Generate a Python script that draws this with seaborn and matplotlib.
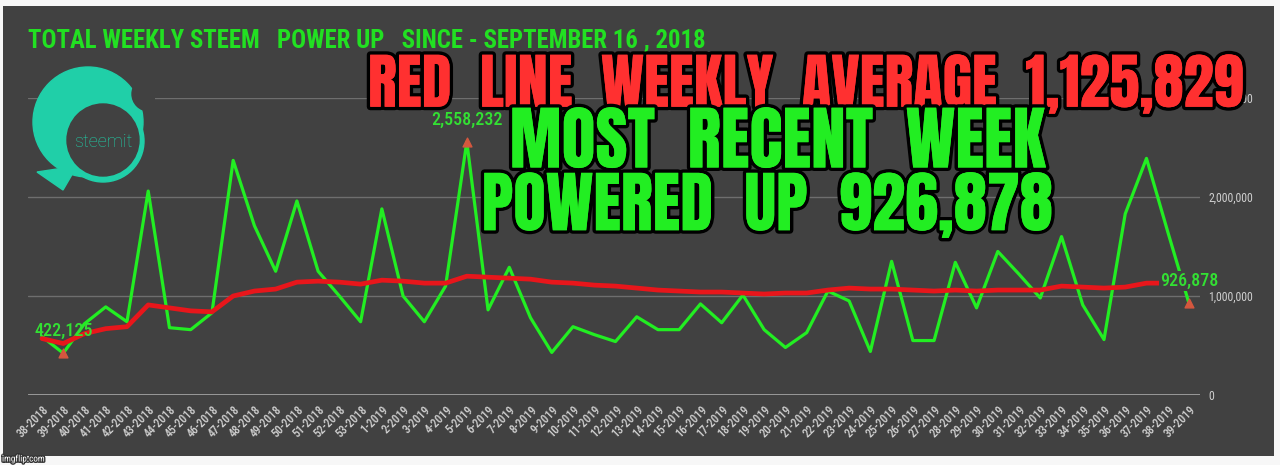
import numpy as np
import pandas as pd
import seaborn as sns
import matplotlib.pyplot as plt
from matplotlib import patheffects as pe
from matplotlib.patches import Rectangle, Circle, Polygon

# weekly totals
weeks = [
    "38-2018", "39-2018", "40-2018", "41-2018", "42-2018", "43-2018", "44-2018",
    "45-2018", "46-2018", "47-2018", "48-2018", "49-2018", "50-2018", "51-2018",
    "52-2018", "53-2018", "1-2019", "2-2019", "3-2019", "4-2019", "5-2019",
    "6-2019", "7-2019", "8-2019", "9-2019", "10-2019", "11-2019", "12-2019",
    "13-2019", "14-2019", "15-2019", "16-2019", "17-2019", "18-2019", "19-2019",
    "20-2019", "21-2019", "22-2019", "23-2019", "24-2019", "25-2019", "26-2019",
    "27-2019", "28-2019", "29-2019", "30-2019", "31-2019", "32-2019", "33-2019",
    "34-2019", "35-2019", "36-2019", "37-2019", "38-2019", "39-2019",
]
power_up = [
    590000, 422125, 720000, 890000, 740000, 2060000, 680000, 660000, 830000, 2370000,
    1710000, 1250000, 1960000, 1250000, 1000000, 740000, 1880000, 1000000, 740000, 1100000,
    2558232, 860000, 1290000, 780000, 430000, 690000, 610000, 540000, 790000, 660000,
    660000, 920000, 730000, 1010000, 660000, 480000, 630000, 1050000, 950000, 440000,
    1350000, 550000, 550000, 1340000, 880000, 1450000, 1220000, 980000, 1600000, 910000,
    560000, 1830000, 2390000, 1650000, 926878,
]
weekly_avg = [
    570000, 520000, 620000, 670000, 690000, 910000, 880000, 850000, 840000, 1000000,
    1050000, 1070000, 1140000, 1150000, 1140000, 1120000, 1160000, 1150000, 1130000, 1130000,
    1200000, 1190000, 1180000, 1170000, 1140000, 1130000, 1110000, 1100000, 1080000, 1060000,
    1050000, 1040000, 1040000, 1030000, 1020000, 1030000, 1030000, 1060000, 1080000, 1070000,
    1070000, 1060000, 1050000, 1060000, 1050000, 1060000, 1060000, 1060000, 1100000, 1090000,
    1080000, 1090000, 1130000, 1130000, 1126000,
]
marked_weeks = ["39-2018", "5-2019", "39-2019"]
marked_labels = ["422,125", "2,558,232", "926,878"]
y_ticks = [0, 1000000, 2000000, 3000000]
y_tick_labels = ["0", "1,000,000", "2,000,000", "3,000,000"]

df = pd.DataFrame({"week": weeks, "power_up": power_up, "avg": weekly_avg})
df["pos"] = np.arange(len(df))

sns.set_theme(style="dark")
plt.rcParams["font.family"] = ["Roboto Condensed", "Roboto", "DejaVu Sans"]

W, H = 1280, 465
BG = "#414141"
GREEN = "#22ee22"
RED = "#e8161b"

fig = plt.figure(figsize=(W / 100, H / 100), dpi=100)
fig.patch.set_facecolor("#f7f7f7")
fig.add_artist(Rectangle((3 / W, 1 - 456 / H), 1271 / W, 450 / H,
                         transform=fig.transFigure, facecolor=BG,
                         edgecolor="none", zorder=-5))

ax = fig.add_axes([28 / W, 70 / H, 1172 / W, 297 / H])
ax.set_facecolor("none")

sns.lineplot(data=df, x="pos", y="power_up", color=GREEN, lw=2.3, ax=ax, zorder=3)
sns.lineplot(data=df, x="pos", y="avg", color=RED, lw=3.4, ax=ax, zorder=4)

mk = df[df["week"].isin(marked_weeks)]
ax.scatter(mk["pos"], mk["power_up"], marker="^", s=40, color="#d4573e", zorder=6)
for wk, txt in zip(marked_weeks, marked_labels):
    row = df[df["week"] == wk].iloc[0]
    ax.annotate(txt, (row["pos"], row["power_up"]), xytext=(0, 16),
                textcoords="offset points", ha="center", va="center",
                color="#33e033", fontsize=13, fontweight="medium", zorder=7,
                bbox=dict(facecolor=BG, edgecolor="none", pad=0.5) if wk == "39-2019" else None)

ax.set_xlim(-0.66, 54.52)
ax.set_ylim(0, 3000000)
ax.set_xticks(df["pos"], df["week"], rotation=45, ha="right", rotation_mode="anchor")
ax.set_yticks(y_ticks, y_tick_labels)
ax.yaxis.tick_right()
ax.tick_params(axis="x", length=0, pad=6, labelsize=8.5, labelcolor="#cfcfcf")
ax.tick_params(axis="y", length=0, pad=6, labelsize=8.5, labelcolor="#cfcfcf")
for lbl in ax.get_xticklabels():
    lbl.set_fontweight("medium")
ax.grid(axis="y", color="#6e6e6e", lw=1)
ax.grid(axis="x", visible=False)
ax.axhline(0, color="#a0a0a0", lw=2, zorder=2)
for s in ax.spines.values():
    s.set_visible(False)
ax.set_xlabel("")
ax.set_ylabel("")

# steemit logo (pixel coords of a small box)
lx0, ly0, lw_, lh_ = 25, 60, 130, 135
lax = fig.add_axes([lx0 / W, 1 - (ly0 + lh_) / H, lw_ / W, lh_ / H])
lax.set_xlim(0, lw_)
lax.set_ylim(lh_, 0)
lax.axis("off")
TEAL = "#20cfa8"
lax.add_patch(Circle((63, 62), 55, color=TEAL))
lax.add_patch(Polygon([(12, 112), (38, 130), (52, 106)], color=TEAL))
lax.add_patch(Circle((124, 34), 17, color=BG))
lax.add_patch(Circle((78, 81), 41, color=TEAL))
lax.add_patch(Circle((78, 80), 36, color=BG))
lax.text(78, 82, "steemit", color=TEAL, fontsize=13, ha="center", va="center",
         family=["Roboto", "DejaVu Sans"], fontweight="light")

renderer = fig.canvas.get_renderer()


def fit(txt, width_px):
    bb = txt.get_window_extent(renderer)
    txt.set_fontsize(txt.get_fontsize() * width_px / bb.width)


title = fig.text(28 / W, 1 - 40 / H,
                 "TOTAL WEEKLY STEEM   POWER UP   SINCE - SEPTEMBER 16 , 2018",
                 color="#22e022", fontsize=15, fontweight="bold", va="center")
fit(title, 677)

heavy = ["Anton", "Oswald", "DejaVu Sans"]
big = [
    ("RED  LINE  WEEKLY  AVERAGE  1,125,829", "#ff3030", 805, 84, 875),
    ("MOST  RECENT  WEEK", "#22ee22", 777, 142, 535),
    ("POWERED  UP  926,878", "#22ee22", 767, 205, 570),
]
for s, c, cx, cy, wpx in big:
    t = fig.text(cx / W, 1 - cy / H, s, color=c, fontsize=30,
                 ha="center", va="center", family=heavy, zorder=20)
    t.set_path_effects([
        pe.SimplePatchShadow(offset=(1.5, -1.5), shadow_rgbFace="black", alpha=0.7),
        pe.withStroke(linewidth=5, foreground="black"),
        pe.Normal(),
    ])
    fit(t, wpx)

fig.text(2 / W, 1 - 459 / H, "imgflip.com", color="white", fontsize=6.5,
         va="center", path_effects=[pe.withStroke(linewidth=2, foreground="#333333")])

fig.savefig("out.png", dpi=100, facecolor=fig.get_facecolor())
